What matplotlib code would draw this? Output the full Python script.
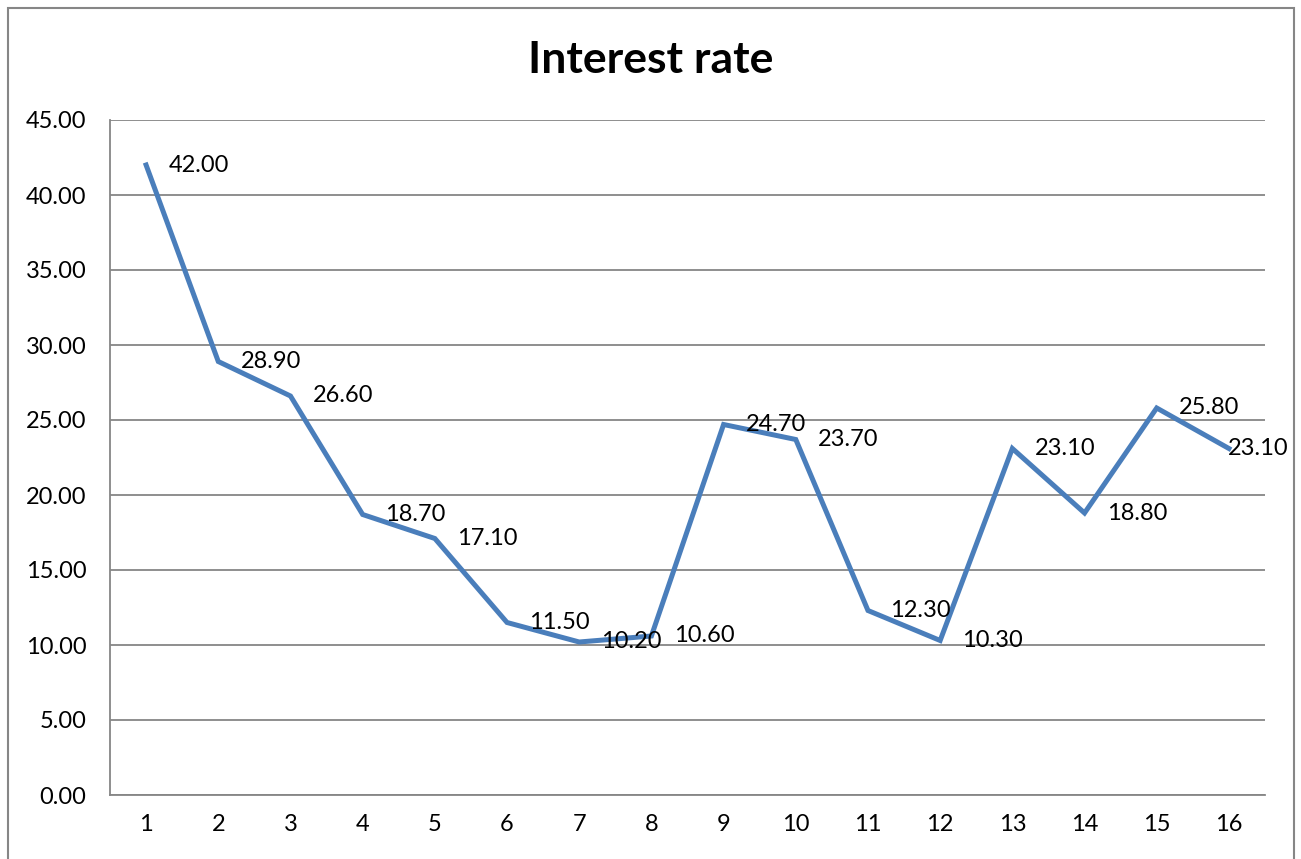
import matplotlib.pyplot as plt
from matplotlib.patches import Rectangle

plt.rcParams['font.family'] = ['Lato', 'DejaVu Sans']

periods = list(range(1, 17))
rates = [42.0, 28.9, 26.6, 18.7, 17.1, 11.5, 10.2, 10.6,
         24.7, 23.7, 12.3, 10.3, 23.1, 18.8, 25.8, 23.1]
y_ticks = [0, 5, 10, 15, 20, 25, 30, 35, 40, 45]

fig = plt.figure(figsize=(13.01, 8.59), dpi=100)
ax = fig.add_axes([110 / 1301, 64 / 859, 1155 / 1301, 675 / 859])

# chart frame (bottom edge runs off the picture)
fig.patches.append(Rectangle((8 / 1301, -0.05), 1286 / 1301, 1.05 - 8 / 859,
                             transform=fig.transFigure, fill=False,
                             edgecolor='#868686', lw=1.5))

ax.plot(periods, rates, color='#4A7EBB', lw=3.6, solid_joinstyle='miter',
        zorder=3)

for i, (x, y) in enumerate(zip(periods, rates)):
    dx = 16 if i < len(rates) - 1 else -1
    ax.annotate(f'{y:.2f}', (x, y), xytext=(dx, 0), textcoords='offset points',
                ha='left', va='center', fontsize=17, color='black',
                annotation_clip=False, zorder=4)

ax.set_xlim(0.5, 16.5)
ax.set_ylim(0, 45)
ax.set_xticks(periods)
ax.set_yticks(y_ticks)
ax.set_yticklabels([f'{v:.2f}' for v in y_ticks])
ax.tick_params(axis='both', length=0, labelsize=17, colors='black')
ax.tick_params(axis='x', pad=14)
ax.tick_params(axis='y', pad=17)

ax.grid(axis='y', color='#868686', lw=1.3)
ax.set_axisbelow(True)
for s in ['top', 'right']:
    ax.spines[s].set_visible(False)
for s in ['left', 'bottom']:
    ax.spines[s].set_color('#868686')
    ax.spines[s].set_linewidth(1.3)

fig.text(651 / 1301, 1 - 60 / 859, 'Interest rate', ha='center', va='center',
         fontsize=32, fontweight='bold')

fig.savefig('out.png', dpi=100)
